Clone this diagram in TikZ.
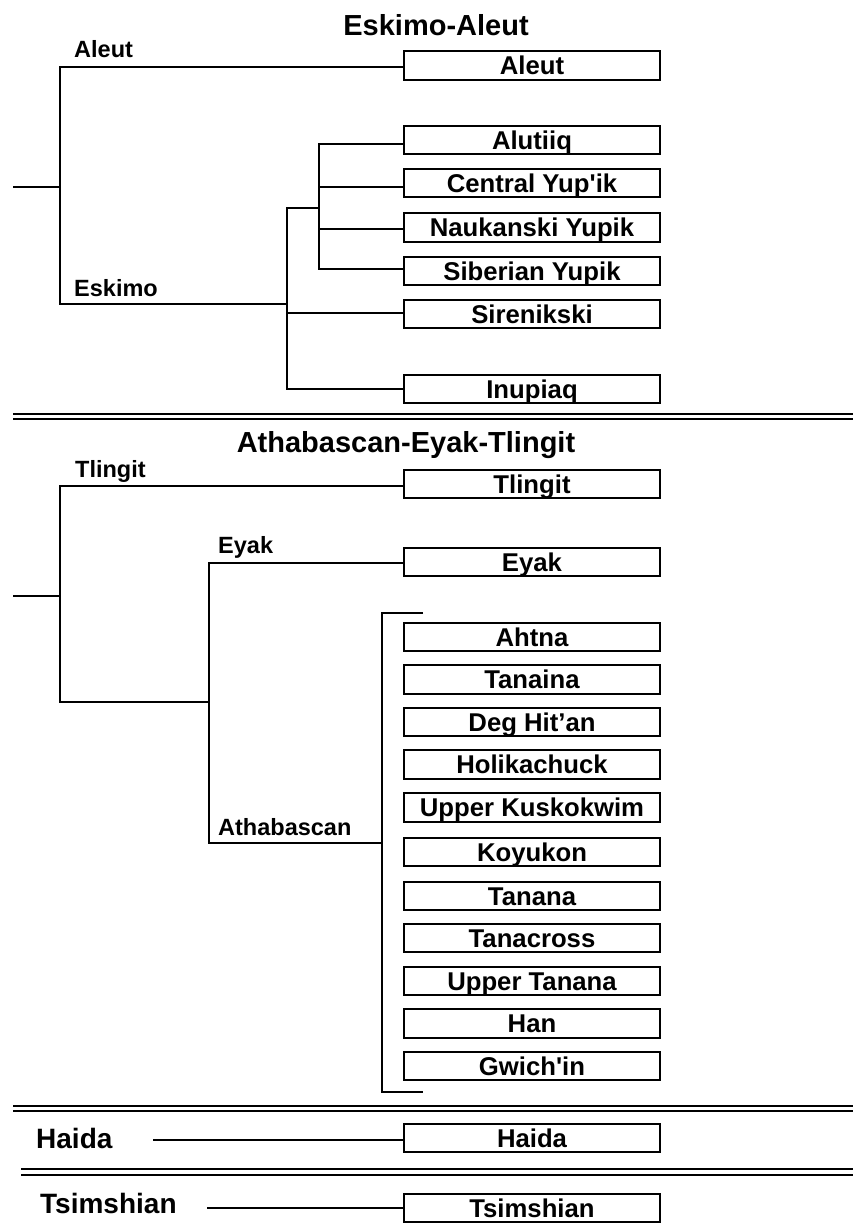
\documentclass[tikz,border=0pt]{standalone}
\usepackage{fontspec}
\setmainfont{Liberation Sans}
\begin{document}
\begin{tikzpicture}[x=1pt,y=-1pt,
  lang/.style={draw, line width=1.8pt, minimum width=256pt, minimum height=28.5pt, inner sep=0pt, text height=18.4pt, text depth=0pt, font=\fontsize{25.7}{26}\selectfont\bfseries},
  brlabel/.style={anchor=base west, inner sep=0pt, font=\fontsize{23.5}{24}\selectfont\bfseries},
  ttl/.style={anchor=base, inner sep=0pt, font=\fontsize{29}{30}\selectfont\bfseries},
  fam/.style={anchor=base west, inner sep=0pt, font=\fontsize{28}{29}\selectfont\bfseries},
  ln/.style={line width=1.8pt},
  sepline/.style={line width=1.8pt}]
\useasboundingbox (0,0) rectangle (859,1226);

% ---------- Eskimo-Aleut ----------
\node[ttl] (t1) at (436,35) {Eskimo-Aleut};
\node[lang] (aleutB) at (532,65.5) {Aleut};
\node[lang] (alutiiq) at (532,140) {Alutiiq};
\node[lang] (cyupik) at (532,183) {Central Yup\textquotesingle ik};
\node[lang] (nyupik) at (532,227.5) {Naukanski Yupik};
\node[lang] (syupik) at (532,271) {Siberian Yupik};
\node[lang] (sirenik) at (532,314) {Sirenikski};
\node[lang] (inupiaq) at (532,389) {Inupiaq};

\node[brlabel] (lAleut) at (74,57) {Aleut};
\node[brlabel] (lEskimo) at (74,296) {Eskimo};

\coordinate (ea0) at (13,187);
\coordinate (ea1) at (60,187);
\coordinate (ea1t) at (60,67);
\coordinate (ea1b) at (60,304);
\coordinate (es) at (287,304);
\coordinate (est) at (287,208);
\coordinate (es5) at (287,313);
\coordinate (esb) at (287,389);
\coordinate (yu) at (319,208);
\coordinate (yut) at (319,144);
\coordinate (yu2) at (319,187);
\coordinate (yu3) at (319,229);
\coordinate (yub) at (319,269);

\draw[ln] (ea0) -- (ea1);
\draw[ln] (ea1t -| aleutB.west) -- (ea1t) -- (ea1b) -- (es);
\draw[ln] (esb -| inupiaq.west) -- (esb) -- (est) -- (yu);
\draw[ln] (es5) -- (es5 -| sirenik.west);
\draw[ln] (yut -| alutiiq.west) -- (yut) -- (yub) -- (yub -| syupik.west);
\draw[ln] (yu2) -- (yu2 -| cyupik.west);
\draw[ln] (yu3) -- (yu3 -| nyupik.west);

% separator
\draw[sepline] (13,414) -- (853,414);
\draw[sepline] (13,419) -- (853,419);

% ---------- Athabascan-Eyak-Tlingit ----------
\node[ttl] (t2) at (406,452) {Athabascan-Eyak-Tlingit};
\node[lang] (tlingitB) at (532,484) {Tlingit};
\node[lang] (eyakB) at (532,562) {Eyak};
\node[lang] (ahtna) at (532,637) {Ahtna};
\node[lang] (tanaina) at (532,679.5) {Tanaina};
\node[lang] (deg) at (532,722) {Deg Hit’an};
\node[lang] (holik) at (532,764.5) {Holikachuck};
\node[lang] (ukusk) at (532,807.5) {Upper Kuskokwim};
\node[lang] (koyukon) at (532,852) {Koyukon};
\node[lang] (tanana) at (532,896) {Tanana};
\node[lang] (tanacross) at (532,938) {Tanacross};
\node[lang] (utanana) at (532,981) {Upper Tanana};
\node[lang] (han) at (532,1023.5) {Han};
\node[lang] (gwichin) at (532,1066) {Gwich\textquotesingle in};

\node[brlabel] (lTlingit) at (75,477) {Tlingit};
\node[brlabel] (lEyak) at (218,553) {Eyak};
\node[brlabel] (lAth) at (218,835) {Athabascan};

\coordinate (at0) at (13,596);
\coordinate (at1) at (60,596);
\coordinate (at1t) at (60,486);
\coordinate (at1b) at (60,702);
\coordinate (ey) at (209,702);
\coordinate (eyt) at (209,563);
\coordinate (eyb) at (209,843);
\coordinate (ath) at (382,843);
\coordinate (brt) at (382,613);
\coordinate (brb) at (382,1092);
\coordinate (brte) at (423,613);
\coordinate (brbe) at (423,1092);

\draw[ln] (at0) -- (at1);
\draw[ln] (at1t -| tlingitB.west) -- (at1t) -- (at1b) -- (ey);
\draw[ln] (eyt -| eyakB.west) -- (eyt) -- (eyb) -- (ath);
\draw[ln] (brte) -- (brt) -- (brb) -- (brbe);

% separator
\draw[sepline] (13,1106) -- (853,1106);
\draw[sepline] (13,1111) -- (853,1111);

% ---------- Haida ----------
\node[fam] (lHaida) at (36,1148) {Haida};
\node[lang] (haidaB) at (532,1138) {Haida};
\coordinate (hd) at (153,1140);
\draw[ln] (hd) -- (hd -| haidaB.west);

% separator
\draw[sepline] (21,1169) -- (853,1169);
\draw[sepline] (21,1175) -- (853,1175);

% ---------- Tsimshian ----------
\node[fam] (lTsim) at (40,1213) {Tsimshian};
\node[lang] (tsimB) at (532,1208) {Tsimshian};
\coordinate (ts) at (207,1208);
\draw[ln] (ts) -- (ts -| tsimB.west);
\end{tikzpicture}
\end{document}
